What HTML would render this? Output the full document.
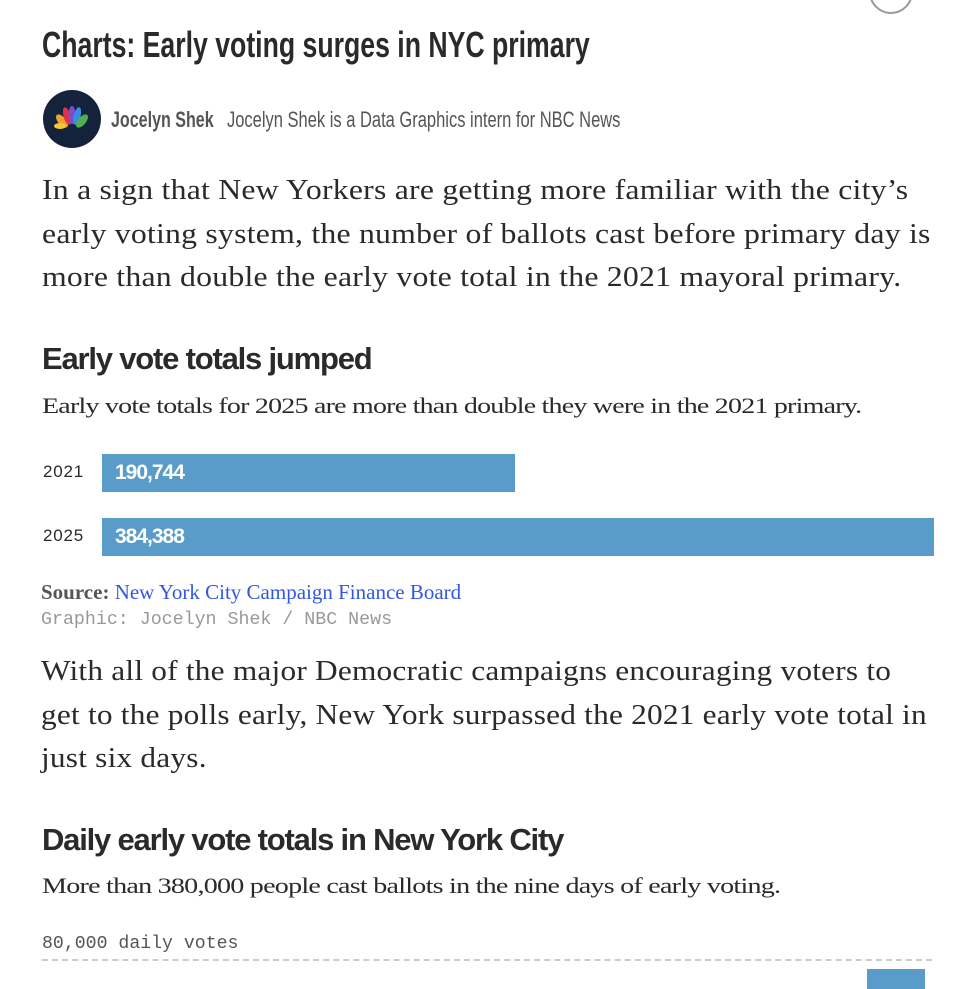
<!DOCTYPE html>
<html><head><meta charset="utf-8"><style>
body{margin:0;width:978px;height:978px;background:#fff;position:relative;overflow:hidden;color:#2a2a2a}
.a{position:absolute;white-space:nowrap;transform-origin:0 0}
.cond{font-family:"Liberation Sans Narrow","Liberation Sans",sans-serif}
.serif{font-family:"Liberation Serif",serif}
.mono{font-family:"Liberation Mono",monospace}
</style></head><body>
<div class="a" style="left:869px;top:-30px;width:40px;height:40px;border:2px solid #999;border-radius:50%"></div>
<div class="a cond" style="left:42px;top:24px;font-size:36px;font-weight:bold;transform:scaleX(0.74);color:#2a2a2a">Charts: Early voting surges in NYC primary</div>
<div class="a" style="left:43px;top:90px;width:58px;height:58px;border-radius:50%;background:#15223b"></div>
<svg class="a" style="left:43px;top:90px" width="58" height="58" viewBox="0 0 58 58">
<ellipse cx="19" cy="31" rx="4" ry="8" fill="#f0a030" transform="rotate(-40 19 31)"/>
<ellipse cx="24" cy="26" rx="3.5" ry="9" fill="#e0304a" transform="rotate(-15 24 26)"/>
<ellipse cx="29" cy="25" rx="3.5" ry="9" fill="#7b4fc8"/>
<ellipse cx="34" cy="26" rx="3.5" ry="9" fill="#3a8de0" transform="rotate(15 34 26)"/>
<ellipse cx="39" cy="31" rx="4" ry="8" fill="#50b050" transform="rotate(40 39 31)"/>
<ellipse cx="17" cy="36" rx="6" ry="3" fill="#f0c830"/>
</svg>
<div class="a cond" style="left:111px;top:107px;font-size:22px;font-weight:bold;color:#555;transform:scaleX(0.73)">Jocelyn Shek</div>
<div class="a cond" style="left:227px;top:107px;font-size:22px;color:#555;transform:scaleX(0.75)">Jocelyn Shek is a Data Graphics intern for NBC News</div>
<div class="a serif" style="left:42px;top:169px;font-size:28px;line-height:43.5px;letter-spacing:0.2px;transform:scaleX(1.134)">In a sign that New Yorkers are getting more familiar with the city’s<br>early voting system, the number of ballots cast before primary day is<br>more than double the early vote total in the 2021 mayoral primary.</div>
<div class="a" style="left:42px;top:341px;font-family:'Liberation Sans',sans-serif;font-size:31px;font-weight:bold;letter-spacing:-1.2px;transform:scaleX(1.0)">Early vote totals jumped</div>
<div class="a serif" style="left:42px;top:393px;font-size:22px;letter-spacing:-0.6px;transform:scaleX(1.27)">Early vote totals for 2025 are more than double they were in the 2021 primary.</div>
<div class="a" style="left:43px;top:462px;font-family:'Liberation Sans',sans-serif;font-size:17px;letter-spacing:0.8px">2021</div>
<div class="a" style="left:102px;top:454px;width:413px;height:38px;background:#5a9cc9"></div>
<div class="a" style="left:115px;top:461px;font-family:'Liberation Sans',sans-serif;font-size:21px;font-weight:bold;color:#fff;letter-spacing:-1px">190,744</div>
<div class="a" style="left:43px;top:526px;font-family:'Liberation Sans',sans-serif;font-size:17px;letter-spacing:0.8px">2025</div>
<div class="a" style="left:102px;top:518px;width:832px;height:38px;background:#5a9cc9"></div>
<div class="a" style="left:115px;top:525px;font-family:'Liberation Sans',sans-serif;font-size:21px;font-weight:bold;color:#fff;letter-spacing:-1px">384,388</div>
<div class="a serif" style="left:41px;top:580px;font-size:21px"><b style="color:#555">Source:</b> <span style="color:#3358e0">New York City Campaign Finance Board</span></div>
<div class="a mono" style="left:41px;top:610px;font-size:18.3px;color:#999">Graphic: Jocelyn Shek / NBC News</div>
<div class="a serif" style="left:41px;top:650px;font-size:28px;line-height:43.5px;letter-spacing:0.2px;transform:scaleX(1.118)">With all of the major Democratic campaigns encouraging voters to<br>get to the polls early, New York surpassed the 2021 early vote total in<br>just six days.</div>
<div class="a" style="left:42px;top:822px;font-family:'Liberation Sans',sans-serif;font-size:31px;font-weight:bold;letter-spacing:-1.2px;transform:scaleX(1.0)">Daily early vote totals in New York City</div>
<div class="a serif" style="left:42px;top:873px;font-size:22px;letter-spacing:-0.6px;transform:scaleX(1.277)">More than 380,000 people cast ballots in the nine days of early voting.</div>
<div class="a mono" style="left:42px;top:934px;font-size:18.2px;color:#555">80,000 daily votes</div>
<div class="a" style="left:42px;top:959px;width:890px;border-top:2px dashed #ccc"></div>
<div class="a" style="left:867px;top:969px;width:58px;height:20px;background:#5a9cc9"></div>
</body></html>
